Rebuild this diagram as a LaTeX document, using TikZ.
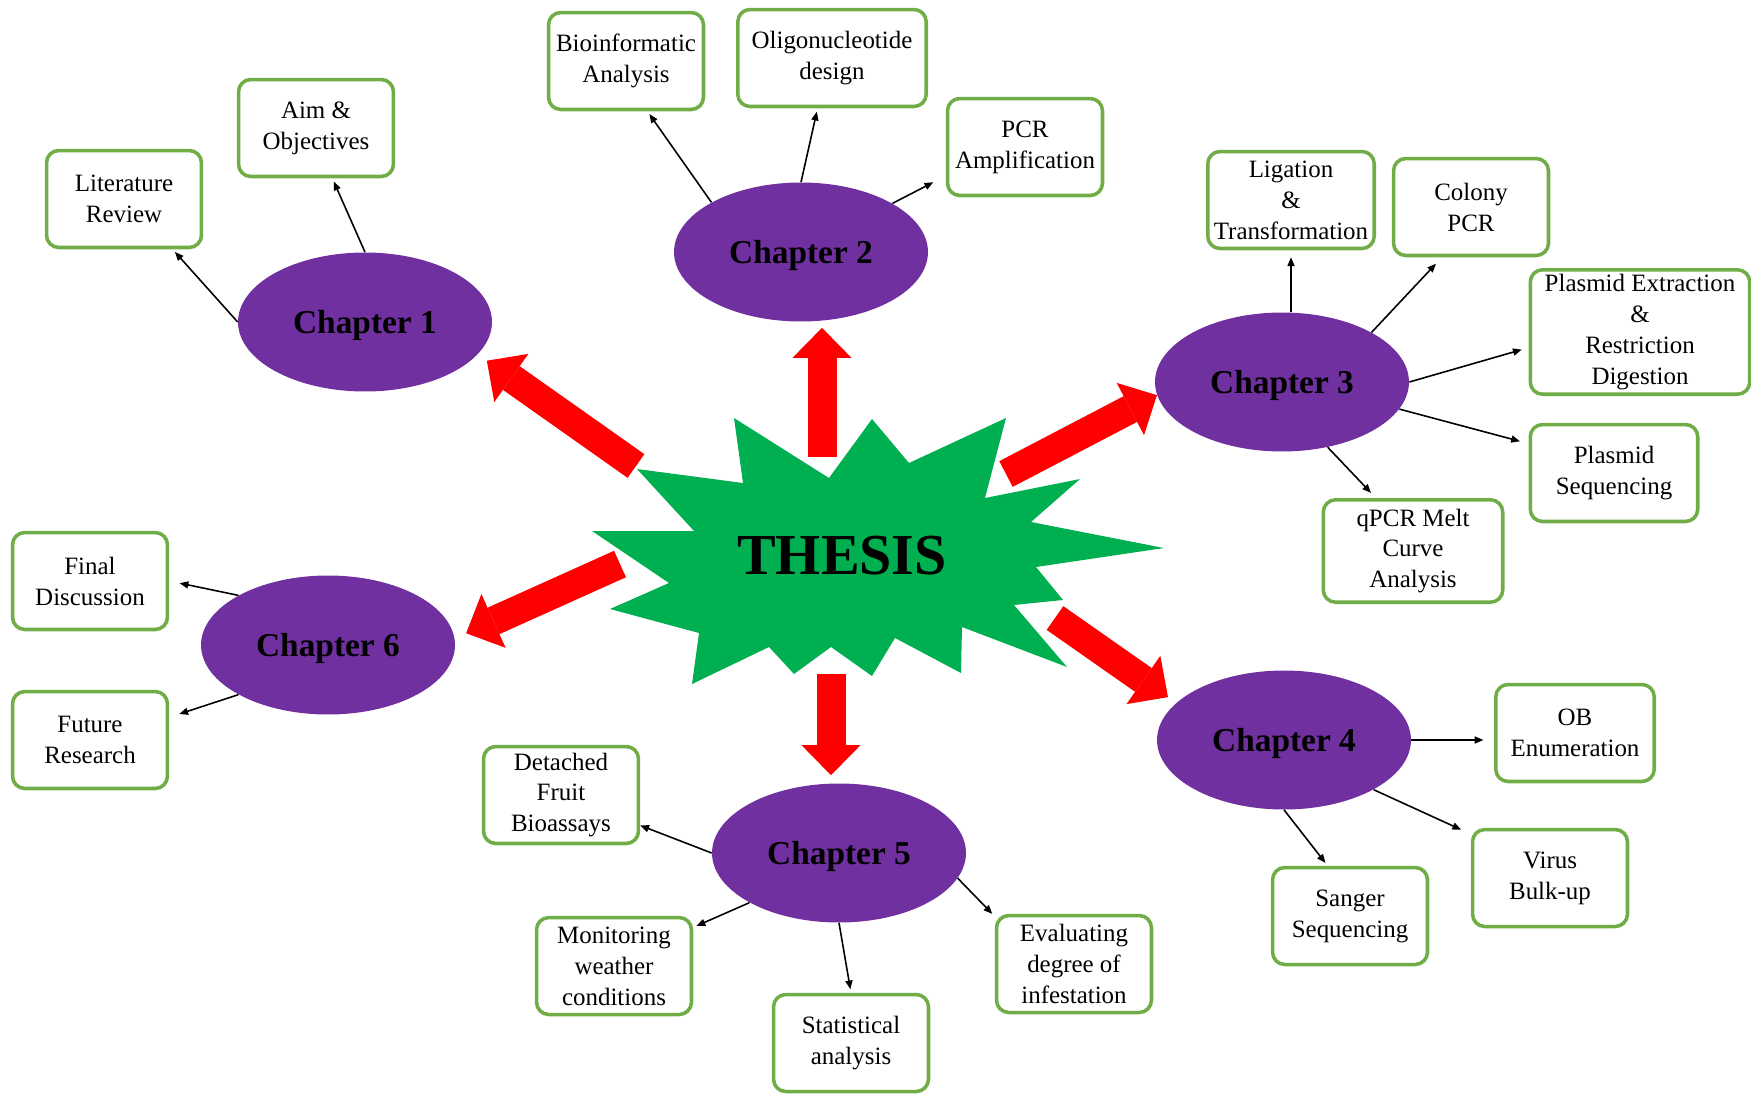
\documentclass[tikz,border=0pt]{standalone}
\usepackage{fontspec}
\setmainfont{Liberation Serif}
\usetikzlibrary{arrows.meta, shapes.geometric}
\definecolor{boxgreen}{RGB}{112,173,71}
\definecolor{chappurple}{RGB}{112,48,160}
\definecolor{burstgreen}{RGB}{0,176,80}

\begin{document}
\begin{tikzpicture}[x=0.02cm, y=-0.02cm]
        \tikzset{chapter/.style={ellipse, fill=chappurple, minimum width=5.08cm, minimum height=2.78cm, inner sep=0pt, text depth=0pt, font=\fontsize{19}{22}\selectfont\bfseries}}
        \tikzset{topic/.style={draw=boxgreen, line width=2pt, rounded corners=7pt, fill=white, align=center, minimum width=3.1cm, minimum height=1.94cm, inner sep=2pt, font=\fontsize{14.2}{17.6}\selectfont}}
        \tikzset{link/.style={-{Triangle[length=5pt, width=4pt]}, line width=0.9pt, shorten >=2pt}}
        \tikzset{bigarrow/.style={red, line width=0.58cm, -{Triangle[length=0.6cm, width=1.18cm, line width=0pt]}}}
        \useasboundingbox (0,0) rectangle (1751,1093);
        \fill[burstgreen] (734,418) -- (829,478) -- (872,419) -- (909,463) -- (1006,418) -- (985,498) -- (1080,479) -- (1031,522) -- (1164,548) -- (1036,567) -- (1063,600) -- (1014,605) -- (1067,667) -- (962,627) -- (961,673) -- (895,638) -- (872,676) -- (831,647) -- (794,674) -- (769,647) -- (692,684) -- (699,633) -- (610,609) -- (669,583) -- (592,531) -- (694,531) -- (637,469) -- (743,483) -- cycle;
        \node[font=\fontsize{33}{38}\selectfont\bfseries] (thesis) at (842,556) {THESIS};
        \node[chapter] (ch1) at (365,322) {Chapter 1};
        \node[chapter] (ch2) at (801,252) {Chapter 2};
        \node[chapter] (ch3) at (1282,382) {Chapter 3};
        \node[chapter] (ch4) at (1284,740) {Chapter 4};
        \node[chapter] (ch5) at (839,853) {Chapter 5};
        \node[chapter] (ch6) at (328,645) {Chapter 6};
        \coordinate (a1) at (636,466);
        \coordinate (a2) at (822,457);
        \coordinate (a3) at (1006,474);
        \coordinate (a4) at (1055,618);
        \coordinate (a5) at (831,674);
        \coordinate (a6) at (620,564);
        \draw[bigarrow, shorten >=0.22cm] (a1) -- (ch1.-16);
        \draw[bigarrow, shorten >=0.12cm] (a2) -- (a2 |- ch2.south);
        \draw[bigarrow] (a3) -- (ch3.186);
        \draw[bigarrow, shorten >=0.2cm] (a4) -- (ch4.161);
        \draw[bigarrow, shorten >=0.16cm] (a5) -- (a5 |- ch5.north);
        \draw[bigarrow, shorten >=0.25cm] (a6) -- (ch6.3);
        \node[topic] (lit) at (124,199) {Literature\\Review};
        \node[topic] (aim) at (316,128) {Aim \&\\Objectives};
        \node[topic] (bioinf) at (626,61) {Bioinformatic\\Analysis};
        \node[topic, minimum width=3.77cm] (oligo) at (832,58) {Oligonucleotide\\design};
        \node[topic] (pcr) at (1025,147) {PCR\\Amplification};
        \node[topic, minimum width=3.33cm] (ligat) at (1291,200) {Ligation\\\&\\Transformation};
        \node[topic] (colony) at (1471,207) {Colony\\PCR};
        \node[topic, minimum width=4.39cm, minimum height=2.49cm] (plasext) at (1640,332) {Plasmid Extraction\\\&\\Restriction\\Digestion};
        \node[topic, minimum width=3.35cm] (plasseq) at (1614,473) {Plasmid\\Sequencing};
        \node[topic, minimum width=3.59cm, minimum height=2.05cm] (qpcr) at (1413,551) {qPCR Melt\\Curve\\Analysis};
        \node[topic, minimum width=3.17cm] (obenum) at (1575,733) {OB\\Enumeration};
        \node[topic] (virus) at (1550,878) {Virus\\Bulk-up};
        \node[topic] (sanger) at (1350,916) {Sanger\\Sequencing};
        \node[topic] (evalinf) at (1074,964) {Evaluating\\degree of\\infestation};
        \node[topic] (stats) at (851,1043) {Statistical\\analysis};
        \node[topic] (monitor) at (614,966) {Monitoring\\weather\\conditions};
        \node[topic] (detached) at (561,795) {Detached\\Fruit\\Bioassays};
        \node[topic] (finaldisc) at (90,581) {Final\\Discussion};
        \node[topic] (future) at (90,740) {Future\\Research};
        \draw[link] (ch1.west) -- (lit.-46);
        \draw[link] (ch1.north) -- (aim.-72);
        \draw[link] (ch2.151) -- (bioinf.-67);
        \draw[link] (ch2.north) -- (oligo.-106);
        \draw[link, shorten >=8pt] (ch2.28) -- (pcr.200);
        \draw[link, shorten >=4pt] (ligat.south |- ch3.north) -- (ligat.south);
        \draw[link, shorten >=5pt] (ch3.29) -- (colony.-120);
        \draw[link, shorten >=4pt] (ch3.east) -- (plasext.188);
        \draw[link, shorten >=5pt] (ch3.-13) -- (plasseq.161);
        \draw[link, shorten >=4pt] (ch3.-55) -- (qpcr.125);
        \draw[link, shorten >=6pt] (ch4.east) -- (ch4.east -| obenum.west);
        \draw[link, shorten >=6pt] (ch4.-29) -- (virus.151);
        \draw[link] (ch4.south) -- (sanger.114);
        \draw[link, shorten >=0pt] (ch5.west) -- (detached.-21);
        \draw[link] (ch5.209) -- (monitor.26);
        \draw[link] (ch5.south) -- (stats.north);
        \draw[link] (ch5.-12) -- (evalinf.149);
        \draw[link, shorten >=6pt] (ch6.151) -- (finaldisc.east);
        \draw[link, shorten >=6pt] (ch6.209) -- (future.16);
\end{tikzpicture}
\end{document}
